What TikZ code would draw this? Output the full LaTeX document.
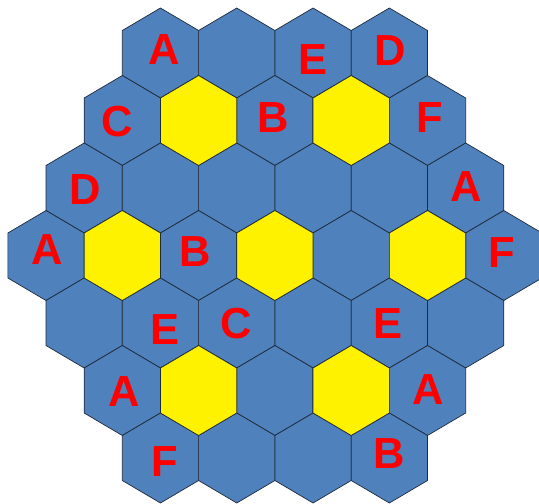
\documentclass[tikz,border=0pt]{standalone}
\usepackage{fontspec}
\setmainfont{Liberation Sans}
\usepackage{xcolor}
\usetikzlibrary{positioning}

\definecolor{tileblue}{HTML}{4F81BD}
\definecolor{tileedge}{HTML}{1F2A3A}

\begin{document}
\begin{tikzpicture}[x=1pt, y=-1pt,
  tile/.style={draw=tileedge, fill=tileblue, line width=0.7pt, line join=miter},
  goldtile/.style={tile, fill=yellow},
  letter/.style={text=red, font=\fontsize{43.5}{43.5}\selectfont\bfseries, inner sep=0pt}
]
  \useasboundingbox (0,0) rectangle (539,504);

  % Board: seven rows of hexagons
  \foreach \r/\n in {0/4, 1/5, 2/6, 3/7, 4/6, 5/5, 6/4} {
    \foreach \c in {1,...,\n} {
      \pgfmathsetmacro\cx{46+(7-\n)*38.15+(\c-1)*76.3}
      \pgfmathsetmacro\cy{53+67.5*\r}
      \coordinate (h\r-\c) at (\cx,\cy);
      \draw[tile] (h\r-\c) +(0,-45) -- +(38.15,-22.5) -- +(38.15,22.5)
        -- +(0,45) -- +(-38.15,22.5) -- +(-38.15,-22.5) -- cycle;
    }
  }

  % Yellow tiles
  \foreach \p in {1-2, 1-4, 3-2, 3-4, 3-6, 5-2, 5-4} {
    \draw[goldtile] (h\p) +(0,-45) -- +(38.15,-22.5) -- +(38.15,22.5)
      -- +(0,45) -- +(-38.15,22.5) -- +(-38.15,-22.5) -- cycle;
  }

  % Letters
  \node[letter] (a1) at (164,50) {A};
  \node[letter] (e1) at (313.5,60) {E};
  \node[letter] (d1) at (390,51) {D};
  \node[letter] (c1) at (117,121.5) {C};
  \node[letter] (b1) at (273.5,117.5) {B};
  \node[letter] (f1) at (430,117.5) {F};
  \node[letter] (d2) at (85.5,189.5) {D};
  \node[letter] (a2) at (466,186.5) {A};
  \node[letter] (a3) at (47,250) {A};
  \node[letter] (b2) at (195.5,252) {B};
  \node[letter] (f2) at (501.5,253) {F};
  \node[letter] (e2) at (165,330) {E};
  \node[letter] (c2) at (236,323.5) {C};
  \node[letter] (e3) at (388,323.5) {E};
  \node[letter] (a4) at (124,392) {A};
  \node[letter] (a5) at (428,389.5) {A};
  \node[letter] (f3) at (165,462) {F};
  \node[letter] (b3) at (389,454) {B};

\end{tikzpicture}
\end{document}
